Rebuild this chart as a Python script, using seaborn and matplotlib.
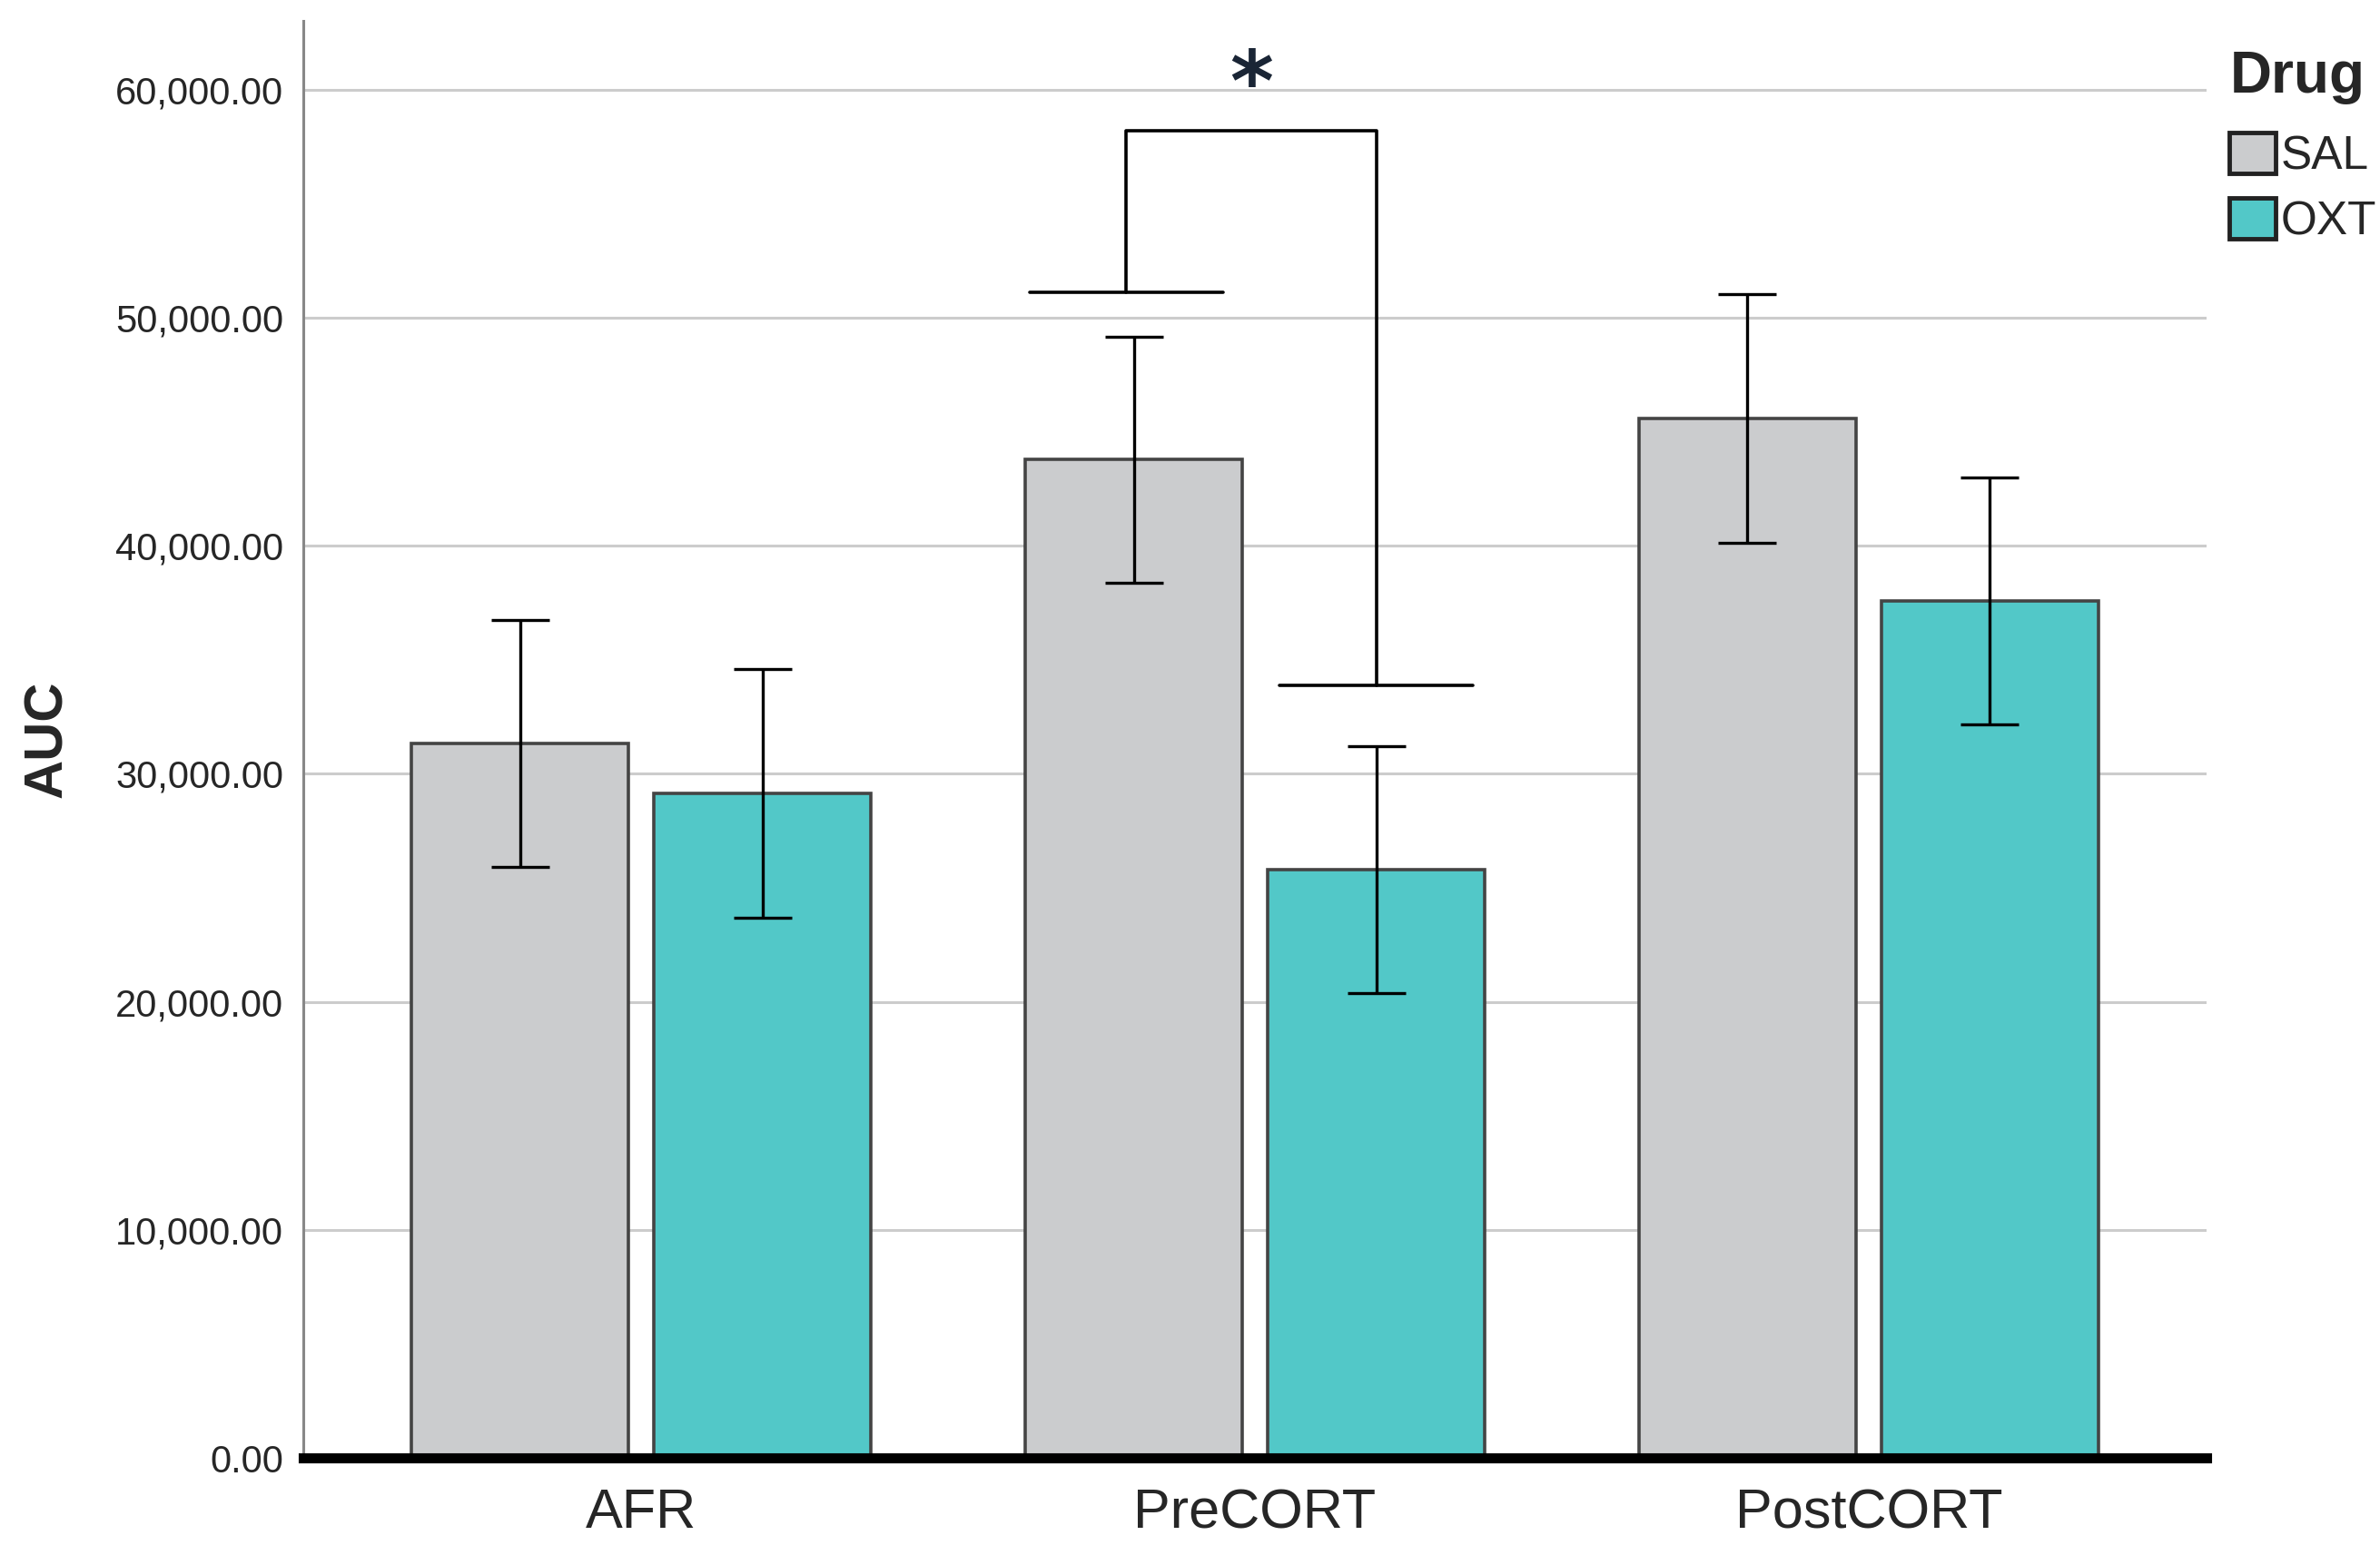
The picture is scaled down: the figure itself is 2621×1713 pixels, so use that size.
import pandas as pd
import matplotlib.pyplot as plt
import seaborn as sns
import numpy as np

# 데이터
phases = ["AFR", "PreCORT", "PostCORT"]
drugs = ["SAL", "OXT"]
sal_mean = [31340, 43780, 45570]
sal_err = [5420, 5390, 5450]
oxt_mean = [29140, 25810, 37590]
oxt_err = [5450, 5420, 5420]

# 유의성 표시 (PreCORT SAL vs OXT)
sig_sal_y = 51100
sig_oxt_y = 33870
sig_top_y = 58220
sig_star_y = 60100

df = pd.DataFrame({
    "phase": phases * 2,
    "drug": ["SAL"] * 3 + ["OXT"] * 3,
    "auc": sal_mean + oxt_mean,
})
errs = {"SAL": sal_err, "OXT": oxt_err}

sns.set_style("white")
plt.rcParams['font.family'] = ['Liberation Sans', 'DejaVu Sans']

fig = plt.figure(figsize=(26.21, 17.13), dpi=100)
ax = fig.add_axes([0.1276, 0.0624, 0.7994, 0.9239])

palette = {"SAL": "#cbccce", "OXT": "#52c8c8"}
sns.barplot(data=df, x="phase", y="auc", hue="drug", order=phases, hue_order=drugs,
            palette=palette, saturation=1, width=0.79, gap=0.106, edgecolor="#444444",
            linewidth=2.6, errorbar=None, ax=ax, zorder=3)

# 에러바
for drug, cont in zip(drugs, ax.containers):
    for i, bar in enumerate(cont):
        xc = bar.get_x() + bar.get_width() / 2
        ax.errorbar(xc, bar.get_height(), yerr=errs[drug][i], color="black",
                    elinewidth=2.4, capsize=23, capthick=2.4, zorder=4)

# 유의성 브래킷
bars_sal = ax.containers[0]
bars_oxt = ax.containers[1]
x_sal = bars_sal[1].get_x() + bars_sal[1].get_width() / 2 - 0.012
x_oxt = bars_oxt[1].get_x() + bars_oxt[1].get_width() / 2
hw = 0.158
ax.plot([x_sal - hw, x_sal + hw], [sig_sal_y, sig_sal_y], color="black", lw=2.6, zorder=5)
ax.plot([x_oxt - hw, x_oxt + hw], [sig_oxt_y, sig_oxt_y], color="black", lw=2.6, zorder=5)
ax.plot([x_sal, x_sal, x_oxt, x_oxt], [sig_sal_y, sig_top_y, sig_top_y, sig_oxt_y],
        color="black", lw=2.6, zorder=5)
ax.text((x_sal + x_oxt) / 2, sig_star_y, "*", ha="center", va="center", fontsize=66,
        fontweight="bold", color="#1a2535", family="DejaVu Sans", zorder=6)

ax.set_ylim(0, 63000)
ax.set_xlim(-0.55, 2.55)
ax.set_yticks(np.arange(0, 60001, 10000))
ax.set_yticklabels([f"{v:,.2f}" for v in np.arange(0, 60001, 10000)])
ax.yaxis.grid(True, color="#cccccc", lw=2.2, zorder=0)
ax.set_axisbelow(True)
ax.tick_params(axis="y", length=0, pad=16, labelsize=30)
ax.tick_params(axis="x", length=0, pad=24, labelsize=44)
ax.set_xlabel("")
ax.set_ylabel("AUC", fontsize=43, fontweight="bold", labelpad=34)

for s in ["top", "right"]:
    ax.spines[s].set_visible(False)
ax.spines["left"].set_color("#888888")
ax.spines["left"].set_linewidth(2.2)
ax.spines["bottom"].set_color("black")
ax.spines["bottom"].set_linewidth(8)
ax.spines["bottom"].set_zorder(6)

handles, labels = ax.get_legend_handles_labels()
for h in handles:
    h.set_edgecolor("#222222")
    h.set_linewidth(3.5)
leg = ax.legend(handles, labels, title="Drug", loc="upper left", bbox_to_anchor=(1.0, 0.996),
                frameon=False, fontsize=37, title_fontproperties={"weight": "bold", "size": 46},
                alignment="left", handlelength=0.98, handleheight=0.98, handletextpad=0.12,
                labelspacing=0.4, borderaxespad=0.1)
leg._legend_box.sep = 22

fig.savefig("out.png", dpi=100)
